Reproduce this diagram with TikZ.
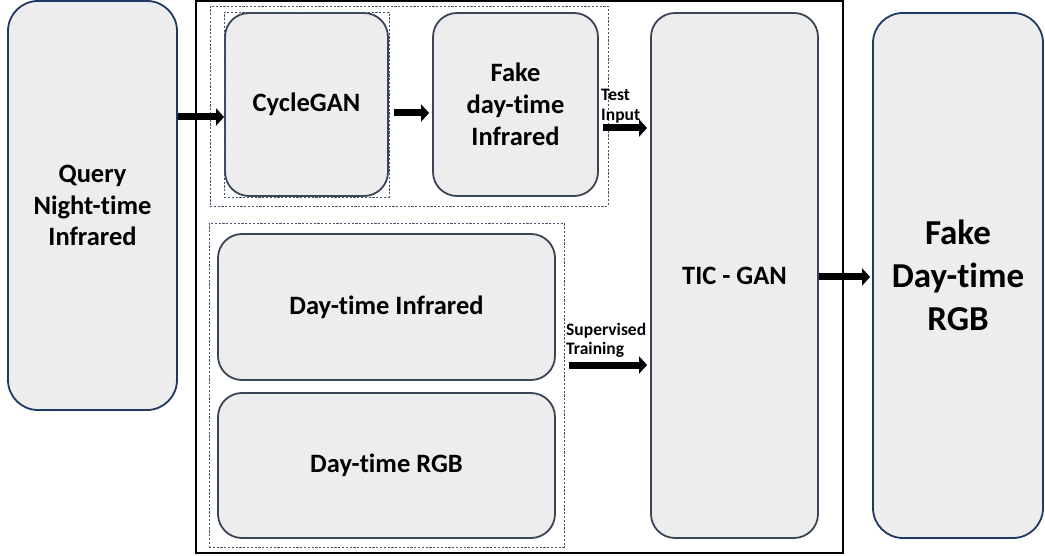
\documentclass[tikz,border=0pt]{standalone}
\usepackage{fontspec}
\setmainfont{Carlito}[Ligatures=NoCommon]
\usetikzlibrary{arrows.meta,fit}
\definecolor{boxfill}{HTML}{EDEDED}
\definecolor{navy}{HTML}{203864}
\definecolor{slate}{HTML}{3A4555}
\definecolor{dashc}{HTML}{44546A}
\tikzset{
  x=1pt,y=-1pt,
  blk/.style={draw=slate,line width=1.8pt,fill=boxfill,rounded corners=24pt,align=center,
    font=\bfseries\fontsize{26.5}{32}\selectfont,inner sep=0pt},
  endbox/.style={blk,draw=navy,rounded corners=30pt},
  grp/.style={draw=dashc,line width=0.7pt,dash pattern=on 2.2pt off 1.6pt,inner sep=0pt},
  arr/.style={line width=7pt,-{Triangle[length=8pt,width=17pt]}},
  lbl/.style={font=\bfseries\fontsize{17.5}{19.5}\selectfont,align=left,inner sep=0pt},
}
\begin{document}
\begin{tikzpicture}
\useasboundingbox (0,0) rectangle (1045,556);
% outer frame
\node[draw=black,line width=2pt,minimum width=647pt,minimum height=552pt,inner sep=0pt] (frame) at (519.5,277) {};
% left input
\node[endbox,minimum width=169pt,minimum height=409pt,font=\bfseries\fontsize{26.5}{31.5}\selectfont] (query) at (92.5,205.5) {Query\\Night-time\\Infrared};
% top group
\node[blk,minimum width=163pt,minimum height=183pt] (cycle) at (306.5,104.5) {CycleGAN};
\node[blk,minimum width=165pt,minimum height=183pt] (fakeir) at (515.5,104.5) {Fake\\day-time\\Infrared};
\node[grp,fit=(cycle)] (cyclegrp) {};
\node[grp,minimum width=398pt,minimum height=200pt] (testgrp) at (409,106) {};
% bottom group
\node[blk,minimum width=337pt,minimum height=146pt] (dti) at (386.5,307) {Day-time Infrared};
\node[blk,minimum width=337pt,minimum height=145pt] (dtr) at (386.5,465.5) {Day-time RGB};
\node[grp,minimum width=355pt,minimum height=324pt] (train) at (386.5,385) {};
% TIC-GAN
\node[blk,minimum width=167pt,minimum height=525pt] (tic) at (734.5,275.5) {TIC - GAN};
% output
\node[endbox,minimum width=170pt,minimum height=525pt,font=\bfseries\fontsize{35}{43}\selectfont] (out) at (958,275.5) {Fake\\Day-time\\RGB};
% connectors
\coordinate (a1) at (225,117);
\draw[arr] (query.east |- a1) -- (cycle.west |- a1);
\coordinate (a2) at (0,113);
\draw[arr] ([xshift=5pt]cycle.east |- a2) -- ([xshift=-3pt]fakeir.west |- a2);
\coordinate (a3) at (0,128);
\draw[arr] ([xshift=4pt]fakeir.east |- a3) -- ([xshift=-3pt]tic.west |- a3);
\node[lbl,anchor=north west] (testlbl) at (601,89) {Test\\Input};
\coordinate (a4) at (0,365);
\draw[arr] ([xshift=5pt]train.east |- a4) -- ([xshift=-3pt]tic.west |- a4);
\node[lbl,anchor=north west] (suplbl) at (566,323) {Supervised\\Training};
\coordinate (a5) at (0,277);
\draw[arr] (tic.east |- a5) -- ([xshift=-2pt]out.west |- a5);
\end{tikzpicture}
\end{document}
